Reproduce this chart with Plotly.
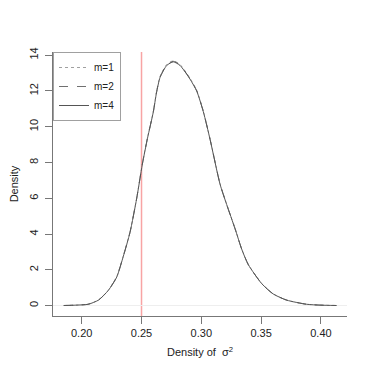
import plotly.graph_objects as go

# sigma^2 grid and density estimates for each m
X_GRID = [0.185, 0.195, 0.2055, 0.214, 0.2222, 0.2293, 0.2348, 0.2404, 0.246,
          0.2507, 0.255, 0.2599, 0.2625, 0.2655, 0.2711, 0.2766, 0.2822, 0.2906,
          0.2962, 0.3017, 0.3073, 0.3156, 0.3212, 0.3282, 0.3338, 0.3393, 0.3505,
          0.3602, 0.3714, 0.388, 0.400, 0.413]
DENS_M1 = [0.01, 0.03, 0.09, 0.32, 0.86, 1.62, 2.78, 4.12, 6.02, 7.93, 9.38,
           10.85, 11.92, 12.80, 13.48, 13.68, 13.47, 12.70, 12.02, 10.86, 9.31,
           6.82, 5.66, 4.31, 3.16, 2.30, 1.24, 0.66, 0.31, 0.08, 0.03, 0.01]
DENS_M2 = [0.01, 0.03, 0.08, 0.31, 0.85, 1.61, 2.77, 4.11, 6.01, 7.91, 9.36,
           10.84, 11.90, 12.77, 13.45, 13.65, 13.44, 12.67, 12.00, 10.84, 9.30,
           6.81, 5.65, 4.30, 3.15, 2.29, 1.23, 0.65, 0.31, 0.08, 0.03, 0.01]
DENS_M4 = [0.01, 0.03, 0.08, 0.31, 0.85, 1.60, 2.76, 4.10, 6.00, 7.90, 9.35,
           10.83, 11.88, 12.75, 13.42, 13.62, 13.42, 12.65, 11.98, 10.83, 9.29,
           6.80, 5.65, 4.30, 3.15, 2.29, 1.23, 0.65, 0.31, 0.08, 0.03, 0.01]
SERIES_NAMES = ["m=1", "m=2", "m=4"]
TRUE_SIGMA2 = 0.25
X_TICKS = [0.20, 0.25, 0.30, 0.35, 0.40]
X_TICK_LABELS = ["0.20", "0.25", "0.30", "0.35", "0.40"]
Y_TICKS = [0, 2, 4, 6, 8, 10, 12, 14]

FONT = "Liberation Sans, Arial, sans-serif"
LINE_COLORS = ["#a0a0a0", "#707070", "#555555"]

fig = go.Figure()
for name, ys, dash, col in zip(SERIES_NAMES, [DENS_M1, DENS_M2, DENS_M4],
                               ["dot", "dash", "solid"], LINE_COLORS):
    fig.add_trace(go.Scatter(
        x=X_GRID, y=ys, mode="lines", name=name,
        line=dict(color=col, width=1, dash=dash, shape="spline", smoothing=0.6),
    ))

fig.add_shape(type="line", xref="x", yref="paper", x0=TRUE_SIGMA2, x1=TRUE_SIGMA2,
              y0=0, y1=1, line=dict(color="#f8a4a4", width=1.5), layer="below")

# page body adds an 8px offset, so the figure is 366 px and margins are shifted
fig.update_layout(
    width=366, height=366,
    margin=dict(l=45, r=27, t=44, b=58, autoexpand=False),
    paper_bgcolor="white", plot_bgcolor="white",
    font=dict(family=FONT, size=11, color="#222222"),
    showlegend=True,
    legend=dict(x=0, y=1, xanchor="left", yanchor="top", bgcolor="white",
                bordercolor="#a0a0a0", borderwidth=1,
                font=dict(family=FONT, size=10, color="#222222"),
                itemwidth=30, tracegroupgap=0),
    xaxis=dict(range=[0.176, 0.4218], tickvals=X_TICKS, ticktext=X_TICK_LABELS,
               showline=True, linecolor="#777777", linewidth=1, mirror=False,
               ticks="outside", ticklen=7, tickcolor="#777777",
               showgrid=False, zeroline=False, automargin=False,
               title=dict(text="Density of  σ<sup>2</sup>", standoff=10,
                          font=dict(family=FONT, size=11))),
    yaxis=dict(range=[-0.576, 14.17], tickvals=Y_TICKS, tickangle=-90,
               ticklabelstandoff=3,
               showline=True, linecolor="#777777", linewidth=1, mirror=False,
               ticks="outside", ticklen=7, tickcolor="#777777",
               showgrid=False, zeroline=True, zerolinecolor="#eeeeee", zerolinewidth=1,
               automargin=False,
               title=dict(text="Density", standoff=20, font=dict(family=FONT, size=11))),
)

fig.write_html("out.html")
